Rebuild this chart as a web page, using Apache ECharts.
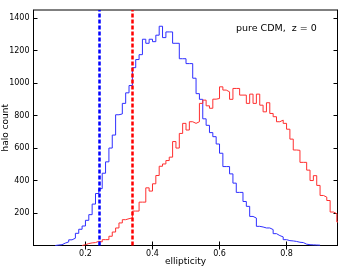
<!DOCTYPE html>
<html><head><meta charset="utf-8">
<script src="https://cdn.jsdelivr.net/npm/echarts@6/dist/echarts.min.js"></script>
<style>html,body{margin:0;padding:0;background:#fff}#c{width:339px;height:268px}</style>
</head><body><div id="c"></div>
<script>
// histogram bins (left edges), width 0.01
const binWidth = 0.01;
const blueStart = 0.11;
const blueCounts = [3,5,15,22,35,45,75,100,120,155,190,255,320,350,445,515,600,680,805,810,875,940,985,1095,1145,1175,1270,1245,1270,1255,1295,1350,1280,1315,1315,1245,1245,1150,1150,1120,1120,1030,935,900,780,740,695,670,625,568,486,486,441,384,327,327,271,241,179,169,118,114,108,108,98,73,61,53,36,30,28,25,20,18,8,5,4,3,2];
const redStart = 0.19;
const redCounts = [5,12,16,18,26,22,36,36,57,83,108,139,159,165,170,212,212,267,267,355,335,380,431,488,502,523,544,640,600,690,752,711,762,752,762,875,895,860,845,901,905,977,957,946,900,967,967,926,926,875,932,875,932,864,823,879,813,793,762,772,752,716,655,588,586,512,512,464,400,430,370,308,298,277,206,196,145];
const blueMean = 0.237;
const redMean = 0.338;
const xTicks = [0.2,0.4,0.6,0.8];
const yTicks = [200,400,600,800,1000,1200,1400];
const annotation = 'pure CDM,  z = 0';

function stepData(start, counts){
  const d = [[start, 0]];
  counts.forEach((c,i)=>{
    const l = +(start + i*binWidth).toFixed(3), r = +(start + (i+1)*binWidth).toFixed(3);
    d.push([l, c]); d.push([r, c]);
  });
  d.push([+(start + counts.length*binWidth).toFixed(3), 0]);
  return d;
}
const font = 'DejaVu Sans';
const chart = echarts.init(document.getElementById('c'));
const xMin = 0.045, xMax = 0.952, yMin = 0, yMax = 1450;
chart.setOption({
  animation:false,
  grid:{left:33.5,right:1.5,top:10,bottom:22.5,containLabel:false,outerBoundsMode:'none',show:true,borderColor:'#000',borderWidth:1},
  xAxis:[{type:'value',min:xMin,max:xMax,
    axisLine:{show:true,lineStyle:{color:'#000',width:1}},
    axisTick:{inside:true,length:4,customValues:xTicks,lineStyle:{color:'#000'}},
    axisLabel:{customValues:xTicks,formatter:v=>v.toFixed(1),color:'#000',fontFamily:font,fontSize:8,margin:4},
    splitLine:{show:false},
    name:'ellipticity',nameLocation:'middle',nameGap:12,nameMoveOverlap:false,nameTextStyle:{color:'#000',fontFamily:font,fontSize:9}},
   {type:'value',position:'top',min:xMin,max:xMax,
    axisLine:{show:true,lineStyle:{color:'#000',width:1}},
    axisTick:{inside:true,length:4,customValues:xTicks,lineStyle:{color:'#000'}},
    axisLabel:{show:false},splitLine:{show:false}}],
  yAxis:[{type:'value',min:yMin,max:yMax,
    axisLine:{show:true,lineStyle:{color:'#000',width:1}},
    axisTick:{inside:true,length:4,customValues:yTicks,lineStyle:{color:'#000'}},
    axisLabel:{customValues:yTicks,formatter:v=>String(v),color:'#000',fontFamily:font,fontSize:8,margin:4},
    splitLine:{show:false},
    name:'halo count',nameLocation:'middle',nameGap:23,nameMoveOverlap:false,nameTextStyle:{color:'#000',fontFamily:font,fontSize:9}},
   {type:'value',position:'right',min:yMin,max:yMax,
    axisLine:{show:true,lineStyle:{color:'#000',width:1}},
    axisTick:{inside:true,length:4,customValues:yTicks,lineStyle:{color:'#000'}},
    axisLabel:{show:false},splitLine:{show:false}}],
  series:[
    {type:'line',data:stepData(blueStart,blueCounts),showSymbol:false,symbol:'none',
     lineStyle:{color:'#2f2fff',width:1},
     markLine:{silent:true,symbol:'none',label:{show:false},
       lineStyle:{color:'#0000ff',type:[4,2],width:2.5},data:[{xAxis:blueMean}]}},
    {type:'line',data:stepData(redStart,redCounts),showSymbol:false,symbol:'none',
     lineStyle:{color:'#ff2f2f',width:1},
     markLine:{silent:true,symbol:'none',label:{show:false},
       lineStyle:{color:'#ff0000',type:[4,2],width:2.5},data:[{xAxis:redMean}]}}
  ],
  graphic:[{type:'text',left:236,top:24,style:{text:annotation,fill:'#000',font:'9.5px "DejaVu Sans"'}}]
});
</script></body></html>
